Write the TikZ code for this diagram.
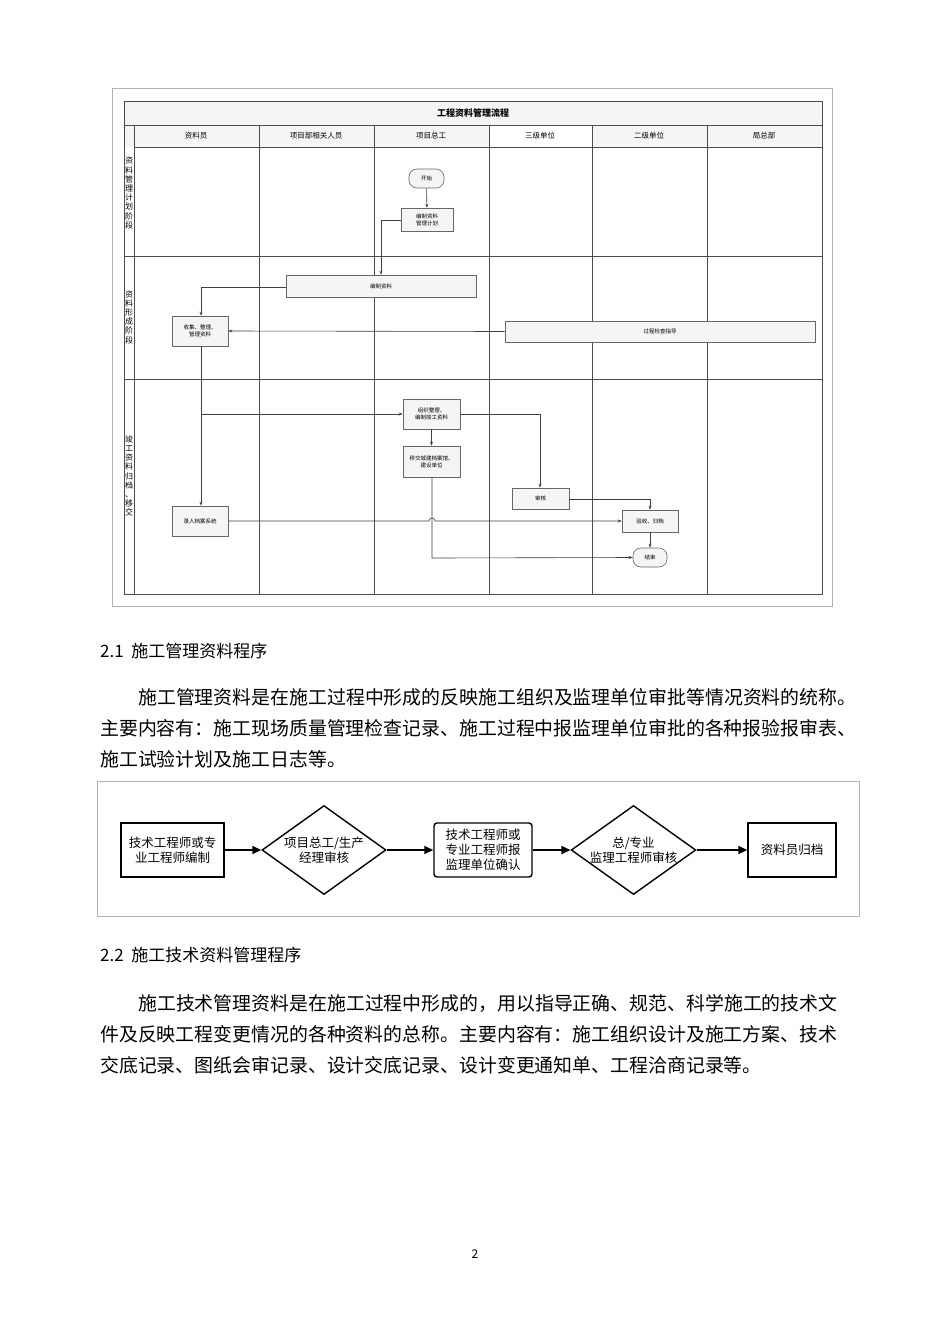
\documentclass[tikz,border=0pt]{standalone}
\usepackage{fontspec}
\setmainfont{Noto Sans CJK SC}
\usetikzlibrary{arrows.meta,shapes.geometric}
\begin{document}
\begin{tikzpicture}[x=1pt,y=-1pt,
  lane/.style={draw=black!70,line width=0.8pt},
  sbox/.style={draw=black!60,fill=black!4,line width=0.6pt,font=\fontsize{5.5}{7}\selectfont,align=center,inner sep=0pt},
  term/.style={sbox,rounded corners=8pt},
  sarr/.style={draw=black!75,line width=0.6pt,-{Stealth[length=4pt,width=3pt]}},
  fbox/.style={draw=black,line width=1.4pt,font=\fontsize{12.5}{15}\selectfont,align=center,inner sep=0pt},
  farr/.style={draw=black,line width=1.6pt,-{Triangle[length=9pt,width=8pt]}},
  para/.style={anchor=west,inner sep=0pt,font=\fontsize{18.9}{19}\selectfont},
  head/.style={anchor=west,inner sep=0pt,font=\fontsize{17}{18}\selectfont}]
\useasboundingbox[fill=white] (0,0) rectangle (950,1344);
% ---------- swimlane diagram ----------
\draw[black!30,line width=0.8pt] (112,88) rectangle (832,606);
\fill[black!4] (124,101) rectangle (822,147);
\fill[white] (489,125) rectangle (592,147);
\draw[lane] (124,101) rectangle (822,594);
\draw[lane] (124,125) -- (822,125);
\draw[lane] (134,125) -- (134,594);
\draw[lane] (134,147) -- (822,147);
\foreach \x in {259,374,489,592,707} \draw[lane] (\x,125) -- (\x,594);
\draw[lane] (124,256) -- (822,256);
\draw[lane] (124,379) -- (822,379);
\node (title) at (473,113) {\fontsize{9}{10}\selectfont\bfseries 工程资料管理流程};
\node (h1) at (196,136) {\fontsize{7.5}{9}\selectfont 资料员};
\node (h2) at (316,136) {\fontsize{7.5}{9}\selectfont 项目部相关人员};
\node (h3) at (431,136) {\fontsize{7.5}{9}\selectfont 项目总工};
\node (h4) at (540,136) {\fontsize{7.5}{9}\selectfont 三级单位};
\node (h5) at (649,136) {\fontsize{7.5}{9}\selectfont 二级单位};
\node (h6) at (764,136) {\fontsize{7.5}{9}\selectfont 局总部};
\node[align=center,inner sep=0pt,font=\fontsize{8}{9.2}\selectfont] (p1) at (129,193) {资\\料\\管\\理\\计\\划\\阶\\段};
\node[align=center,inner sep=0pt,font=\fontsize{8}{9.2}\selectfont] (p2) at (129,317) {资\\料\\形\\成\\阶\\段};
\node[align=center,inner sep=0pt,font=\fontsize{8}{9.2}\selectfont] (p3) at (129,476) {竣\\工\\资\\料\\归\\档\\、\\移\\交};
\node[term,minimum width=35pt,minimum height=19pt] (start) at (426.5,178.5) {开始};
\node[sbox,minimum width=52pt,minimum height=23pt] (plan) at (427,219.5) {编制资料\\管理计划};
\node[sbox,minimum width=190pt,minimum height=22pt] (bianzhi) at (381,286) {编制资料};
\node[sbox,minimum width=56pt,minimum height=30pt] (collect) at (200,331) {收集、整理、\\管理资料};
\node[sbox,minimum width=310pt,minimum height=21pt] (guide) at (660,331.5) {过程检查指导};
\node[sbox,minimum width=57pt,minimum height=30pt] (org) at (431.5,414) {组织整理、\\编制竣工资料};
\node[sbox,minimum width=57pt,minimum height=31pt] (hand) at (431.5,461.5) {移交城建档案馆、\\建设单位};
\node[sbox,minimum width=57pt,minimum height=21pt] (audit) at (540.5,498.5) {审核};
\node[sbox,minimum width=56pt,minimum height=30pt] (enter) at (200,521) {录入档案系统};
\node[sbox,minimum width=56pt,minimum height=22pt] (accept) at (650,521) {验收、归档};
\node[term,minimum width=34pt,minimum height=19pt] (end) at (650,557.5) {结束};
\coordinate (c1) at (381,220);
\coordinate (c2) at (201,287);
\coordinate (c3) at (201,414);
\coordinate (c4) at (540,414);
\coordinate (c5) at (650,499);
\coordinate (c6) at (432,558);
\draw[sarr] (start) -- (plan);
\draw[sarr] (plan.west |- c1) -- (c1) -- (c1 |- bianzhi.north);
\draw[sarr] (bianzhi.west |- c2) -- (c2) -- (c2 |- collect.north);
\draw[sarr] (guide.west) -- (collect.east);
\draw[sarr] (c2 |- collect.south) -- (c2 |- enter.north);
\draw[sarr] (c3) -- (org.west |- c3);
\draw[sarr] (org) -- (hand);
\draw[sarr] (org.east |- c4) -- (c4) -- (c4 |- audit.north);
\draw[sarr] (audit.east |- c5) -- (c5) -- (accept.north);
\draw[sarr] (enter.east) -- (429,521) arc[start angle=180,end angle=360,radius=3] -- (accept.west);
\draw[sarr] (hand.south -| c6) -- (c6) -- (end.west);
\draw[sarr] (accept) -- (end);
% ---------- text ----------
\node[head] (s21) at (100,651) {2.1\ \ 施工管理资料程序};
\node[para] (t1) at (138,697) {施工管理资料是在施工过程中形成的反映施工组织及监理单位审批等情况资料的统称。};
\node[para] (t2) at (100,728) {主要内容有：施工现场质量管理检查记录、施工过程中报监理单位审批的各种报验报审表、};
\node[para] (t3) at (100,759) {施工试验计划及施工日志等。};
% ---------- flow 2 ----------
\draw[black!30,line width=0.8pt] (97,781) rectangle (859,916);
\node[fbox,minimum width=103pt,minimum height=54pt] (f1) at (172.5,850) {技术工程师或专\\业工程师编制};
\node[fbox,diamond,aspect=1.4,minimum width=124pt,minimum height=89pt] (f2) at (324,850) {项目总工/生产\\经理审核};
\node[fbox,rounded corners=3pt,minimum width=98pt,minimum height=54pt] (f3) at (483,850) {技术工程师或\\专业工程师报\\监理单位确认};
\node[fbox,diamond,aspect=1.4,minimum width=123pt,minimum height=89pt] (f4) at (633.5,850) {总/专业\\监理工程师审核};
\node[fbox,minimum width=88pt,minimum height=54pt] (f5) at (792,850) {资料员归档};
\draw[farr] (f1) -- (f2);
\draw[farr] (f2) -- (f3);
\draw[farr] (f3) -- (f4);
\draw[farr] (f4) -- (f5);
% ---------- text 2 ----------
\node[head] (s22) at (100,955) {2.2\ \ 施工技术资料管理程序};
\node[para] (u1) at (138,1003) {施工技术管理资料是在施工过程中形成的，用以指导正确、规范、科学施工的技术文};
\node[para] (u2) at (100,1034) {件及反映工程变更情况的各种资料的总称。主要内容有：施工组织设计及施工方案、技术};
\node[para] (u3) at (100,1065) {交底记录、图纸会审记录、设计交底记录、设计变更通知单、工程洽商记录等。};
\node (pg) at (475,1254) {\fontsize{12}{14}\selectfont 2};
\end{tikzpicture}
\end{document}
